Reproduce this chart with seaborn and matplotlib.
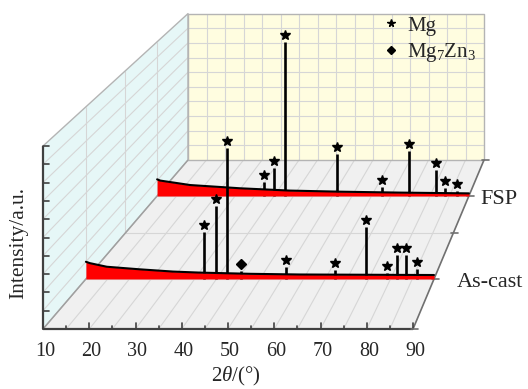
import matplotlib.pyplot as plt
import seaborn as sns
from matplotlib.lines import Line2D
from matplotlib.transforms import Affine2D, offset_copy

# ---- data ------------------------------------------------------------------
THETA_LABELS = [10, 20, 30, 40, 50, 60, 70, 80, 90]

# As-cast: background profile and peaks (2theta, normalised intensity)
ASCAST_BG_T = [10, 10.9, 14.8, 22.4, 30.0, 36.2, 47.7, 59.2, 90]
ASCAST_BG_I = [0.100, 0.092, 0.071, 0.056, 0.043, 0.037, 0.030, 0.026, 0.023]
ASCAST_PEAK_T = [37.2, 39.9, 42.5, 45.6, 55.9, 67.2, 74.3, 79.2, 81.4, 83.5, 86.0]
ASCAST_PEAK_I = [0.273, 0.424, 0.761, 0.045, 0.070, 0.052, 0.302, 0.036, 0.139, 0.139, 0.058]
ASCAST_PHASE = ["Mg", "Mg", "Mg", "Mg7Zn3", "Mg", "Mg", "Mg", "Mg", "Mg", "Mg", "Mg"]

# FSP
FSP_BG_T = [10, 10.8, 18.5, 31.3, 44.1, 56.9, 72.3, 90]
FSP_BG_I = [0.108, 0.100, 0.071, 0.050, 0.035, 0.028, 0.022, 0.017]
FSP_PEAK_T = [37.3, 40.1, 42.8, 56.1, 67.8, 74.6, 81.6, 83.9, 86.9]
FSP_PEAK_I = [0.093, 0.183, 1.0, 0.270, 0.060, 0.294, 0.169, 0.052, 0.030]
FSP_PHASE = ["Mg"] * 9

SERIES_NAMES = ["FSP", "As-cast"]
SERIES_DEPTH = [0.787, 0.296]

# ---- style ------------------------------------------------------------------
sns.set_style("white")
plt.rcParams["font.family"] = ["Liberation Serif", "DejaVu Serif"]
plt.rcParams["mathtext.fontset"] = "custom"
plt.rcParams["mathtext.rm"] = "Liberation Serif"
plt.rcParams["mathtext.it"] = "Liberation Serif:italic"

BACK_C = "#fffde0"
LEFT_C = "#e6f7f7"
FLOOR_C = "#f0f0f0"
GRID_C = "#d6d6d6"
EDGE_C = "#b4b4b4"
AXIS_C = "#404040"

# oblique "3d" frame, in pixels of the 528x389 picture
X0, Y0 = 43, 329  # front-left floor corner
DX, DY = 145, 169  # shift from front to back
PX_DEG, PX_INT = 4.625, 183
SHRINK = 0.2
T_MIN, T_MAX = 10, 90
DEPTH_GRID = [0.296, 0.568, 0.787]
DEPTH_TICKS = [0, 0.296, 0.568, 0.787, 1.0]
NAME_DX = [11, 23]  # gap between right edge and series name

fig = plt.figure(figsize=(5.28, 3.89), dpi=100)
ax = fig.add_axes((0.0, 0.0, 1.0, 1.0))
ax.set_xlim(0, 528)
ax.set_ylim(389, 0)
ax.axis("off")


def plane(z):
    # (2theta, intensity) at depth z -> picture pixels
    s = 1 - SHRINK * z
    return (
        Affine2D()
        .translate(-T_MIN, 0)
        .scale(PX_DEG * s, -PX_INT * s)
        .translate(X0 + DX * z, Y0 - DY * z)
    )


def proj(t, z, i):
    return plane(z).transform([t, i])


def seg(p, q, **kw):
    ax.plot([p[0], q[0]], [p[1], q[1]], solid_capstyle="butt", **kw)


# walls
back = [proj(T_MIN, 1, 0), proj(T_MAX, 1, 0), proj(T_MAX, 1, 1), proj(T_MIN, 1, 1)]
left = [proj(T_MIN, 0, 0), proj(T_MIN, 1, 0), proj(T_MIN, 1, 1), proj(T_MIN, 0, 1)]
floor = [proj(T_MIN, 0, 0), proj(T_MAX, 0, 0), proj(T_MAX, 1, 0), proj(T_MIN, 1, 0)]
for poly, col in [(back, BACK_C), (left, LEFT_C), (floor, FLOOR_C)]:
    ax.fill([p[0] for p in poly], [p[1] for p in poly], color=col, lw=0, zorder=0)

# grid on the walls
for t in range(T_MIN + 5, T_MAX, 5):
    seg(proj(t, 1, 0), proj(t, 1, 1), color=GRID_C, lw=0.8, zorder=1)
    seg(proj(t, 0, 0), proj(t, 1, 0), color=GRID_C, lw=0.8, zorder=1)
for k in range(1, 10):
    i = k / 10
    seg(proj(T_MIN, 1, i), proj(T_MAX, 1, i), color=GRID_C, lw=0.8, zorder=1)
    seg(proj(T_MIN, 0, i), proj(T_MIN, 1, i), color=GRID_C, lw=0.8, zorder=1)
for z in DEPTH_GRID:
    seg(proj(T_MIN, z, 0), proj(T_MIN, z, 1), color=GRID_C, lw=0.8, zorder=1)
    seg(proj(T_MIN, z, 0), proj(T_MAX, z, 0), color=GRID_C, lw=0.8, zorder=1)

# outlines
for poly in (back, left):
    xs = [p[0] for p in poly] + [poly[0][0]]
    ys = [p[1] for p in poly] + [poly[0][1]]
    ax.plot(xs, ys, color=EDGE_C, lw=1.0, zorder=2)
seg(proj(T_MIN, 0, 0), proj(T_MIN, 1, 0), color="#a0a0a0", lw=1.0, zorder=2)

# front axes and right depth edge
seg(proj(T_MIN, 0, 0), proj(T_MAX, 0, 0), color=AXIS_C, lw=1.6, zorder=3)
seg(proj(T_MIN, 0, 0), proj(T_MIN, 0, 1), color=AXIS_C, lw=1.6, zorder=3)
seg(proj(T_MAX, 0, 0), proj(T_MAX, 1, 0), color="#707070", lw=1.2, zorder=3)
for t in range(T_MIN, T_MAX + 1, 5):
    x, y = proj(t, 0, 0)
    ax.plot([x, x], [y, y - (6 if t % 10 == 0 else 3)], color=AXIS_C, lw=1.2, zorder=3)
for k in range(0, 11):
    x, y = proj(T_MIN, 0, k / 10)
    ax.plot([x, x + 6], [y, y], color=AXIS_C, lw=1.2, zorder=3)
for z in DEPTH_TICKS:
    x, y = proj(T_MAX, z, 0)
    ax.plot([x - 2, x + 5], [y, y], color="#707070", lw=1.2, zorder=3)


def draw_series(bg_t, bg_i, pk_t, pk_i, phase, z, zb):
    tr = plane(z) + ax.transData
    ax.vlines(pk_t, 0, pk_i, colors="black", lw=1.9, transform=tr, zorder=zb)
    ax.fill_between(bg_t, bg_i, 0, color="#ff0000", lw=0, transform=tr, zorder=zb + 1)
    sns.lineplot(
        x=bg_t, y=bg_i, ax=ax, color="black", lw=1.5,
        estimator=None, sort=False, transform=tr, zorder=zb + 2,
    )
    mk_tr = offset_copy(tr, fig=fig, y=7, units="dots")
    for name, marker, ms in [("Mg", "*", 7), ("Mg7Zn3", "D", 4.8)]:
        ts = [t for t, p in zip(pk_t, phase) if p == name]
        ys = [v for v, p in zip(pk_i, phase) if p == name]
        ax.plot(ts, ys, ls="none", marker=marker, ms=ms, color="black",
                transform=mk_tr, zorder=zb + 3)


draw_series(FSP_BG_T, FSP_BG_I, FSP_PEAK_T, FSP_PEAK_I, FSP_PHASE, SERIES_DEPTH[0], 4)
draw_series(ASCAST_BG_T, ASCAST_BG_I, ASCAST_PEAK_T, ASCAST_PEAK_I, ASCAST_PHASE,
            SERIES_DEPTH[1], 10)

# series names at the right edge
for name, z, dx in zip(SERIES_NAMES, SERIES_DEPTH, NAME_DX):
    x, y = proj(T_MAX, z, 0)
    ax.text(x + dx, y + 8, name, fontsize=16, ha="left", va="baseline")

# axis texts
for t in THETA_LABELS:
    x, y = proj(t, 0, 0)
    ax.text(x + 2, y + 27, str(t), fontsize=14.5, ha="center", va="baseline")
xm = proj(50, 0, 0)[0]
ax.text(xm + 8, Y0 + 52, r"2$\mathit{\theta}$/(°)", fontsize=15, ha="center", va="baseline")
ym = proj(T_MIN, 0, 0.47)[1]
ax.text(19, ym, "Intensity/a.u.", fontsize=15.5, rotation=90, ha="center", va="center")

handles = [
    Line2D([], [], ls="none", marker="*", ms=5.5, color="black"),
    Line2D([], [], ls="none", marker="D", ms=4.5, color="black"),
]
ax.legend(
    handles, ["Mg", r"Mg$_7$Zn$_3$"], loc="upper left",
    bbox_to_anchor=(383 / 528, 1 - 16 / 389), frameon=False, fontsize=15,
    handlelength=0.8, handletextpad=0.35, labelspacing=0.25,
    borderpad=0, borderaxespad=0,
)

ax.set_xlim(0, 528)
ax.set_ylim(389, 0)
fig.savefig("out.png", dpi=100)
